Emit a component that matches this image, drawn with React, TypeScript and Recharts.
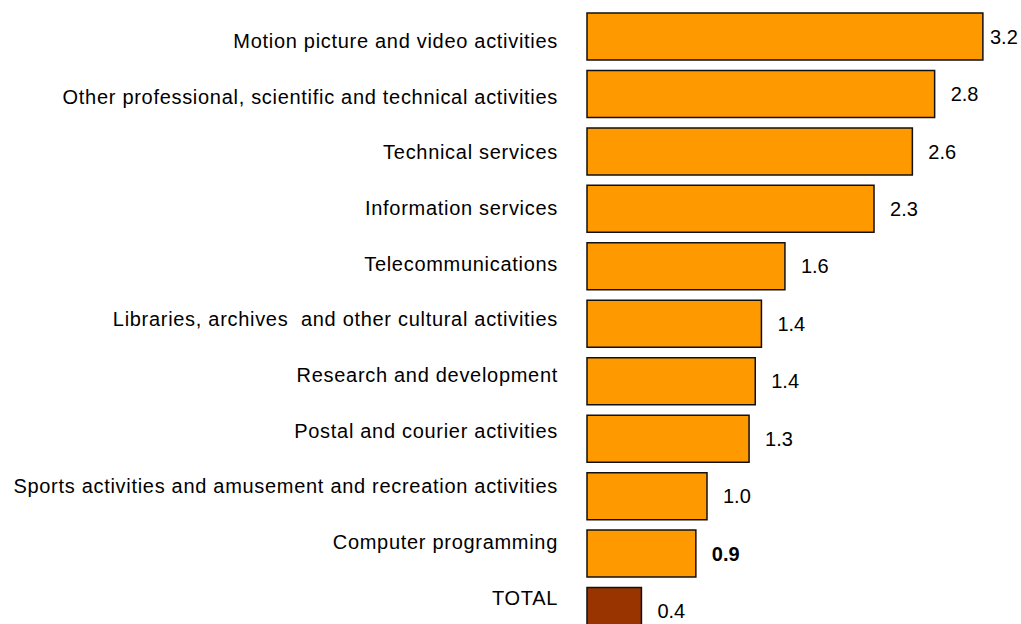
import { BarChart, Bar, XAxis, YAxis, Cell, LabelList } from 'recharts';

const categories = [
  'Motion picture and video activities',
  'Other professional, scientific and technical activities',
  'Technical services',
  'Information services',
  'Telecommunications',
  'Libraries, archives  and other cultural activities',
  'Research and development',
  'Postal and courier activities',
  'Sports activities and amusement and recreation activities',
  'Computer programming',
  'TOTAL',
];

const values = [3.2, 2.81, 2.63, 2.32, 1.6, 1.41, 1.36, 1.31, 0.97, 0.88, 0.44];

const chartData = categories.map((name, i) => ({ name, value: values[i] }));

const FONT = '"Liberation Sans", Arial, sans-serif';
const BAR_COLOR = '#FF9900';
const TOTAL_COLOR = '#993300';

function CategoryTick({ x, y, payload, index }: any) {
  // labels drift slightly upward relative to the bars, as in the original export
  const shift = 4 - 1.75 * index;
  return (
    <text
      x={x + 1}
      y={y + shift}
      dy="0.355em"
      textAnchor="end"
      fontFamily={FONT}
      fontSize={20}
      letterSpacing={0.7}
      fill="#000"
      style={{ whiteSpace: 'pre' }}
    >
      {payload.value}
    </text>
  );
}

function ValueLabel({ x, y, width, height, value, index }: any) {
  const lx = Math.min(x + width + 16, 990);
  const bold = categories[index] === 'Computer programming';
  return (
    <text
      x={lx}
      y={y + height / 2}
      dy="0.355em"
      fontFamily={FONT}
      fontSize={20}
      fontWeight={bold ? 'bold' : 'normal'}
      fill="#000"
    >
      {Number(value).toFixed(1)}
    </text>
  );
}

export default function App() {
  return (
    <div style={{ position: 'absolute', left: 0, top: 0, width: 1021, height: 624, overflow: 'hidden', background: '#fff' }}>
      <BarChart
        width={1021}
        height={640}
        data={chartData}
        layout="vertical"
        margin={{ top: 8, right: 1, bottom: 0, left: 0 }}
        barCategoryGap={5}
      >
        <XAxis type="number" domain={[0, 3.5]} hide />
        <YAxis
          type="category"
          dataKey="name"
          width={587}
          axisLine={false}
          tickLine={false}
          tick={<CategoryTick />}
          tickMargin={24}
          interval={0}
        />
        <Bar dataKey="value" stroke="#111" strokeWidth={1.5} isAnimationActive={false}>
          {chartData.map((d, i) => (
            <Cell key={i} fill={d.name === 'TOTAL' ? TOTAL_COLOR : BAR_COLOR} />
          ))}
          <LabelList dataKey="value" content={<ValueLabel />} />
        </Bar>
      </BarChart>
    </div>
  );
}
